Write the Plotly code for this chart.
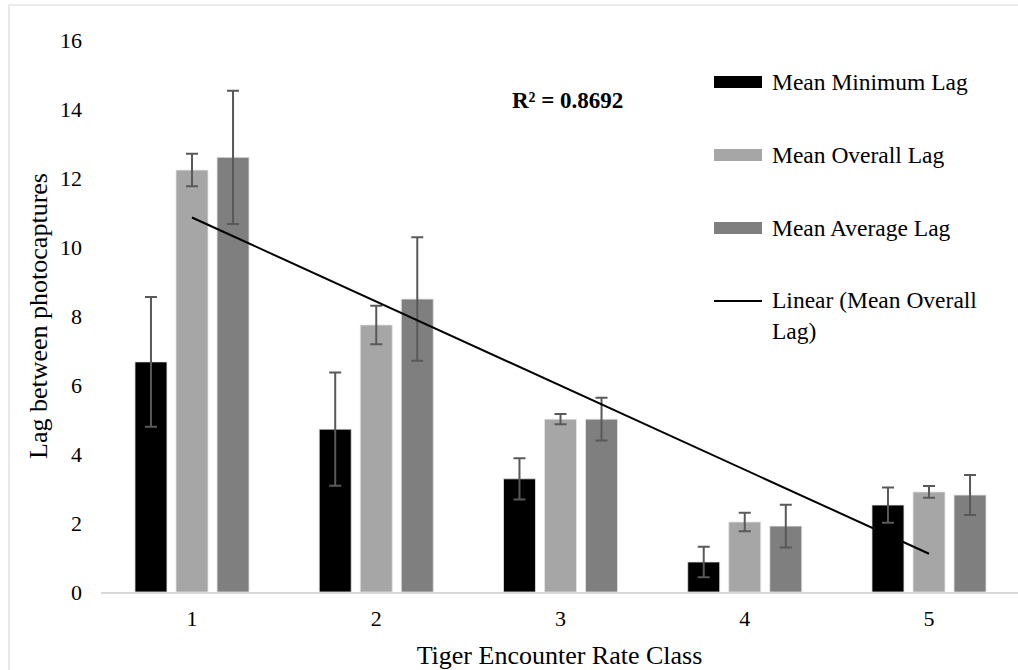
import numpy as np
import plotly.graph_objects as go

categories = ["1", "2", "3", "4", "5"]
x_num = [1, 2, 3, 4, 5]

min_lag = [6.67, 4.72, 3.28, 0.87, 2.52]
min_err = [1.88, 1.64, 0.60, 0.44, 0.51]
overall_lag = [12.23, 7.74, 5.01, 2.03, 2.90]
overall_err = [0.47, 0.56, 0.15, 0.27, 0.17]
average_lag = [12.60, 8.49, 5.01, 1.91, 2.81]
average_err = [1.93, 1.79, 0.62, 0.62, 0.58]

series_names = ["Mean Minimum Lag", "Mean Overall Lag", "Mean Average Lag"]
series_colors = ["#000000", "#a6a6a6", "#7f7f7f"]
trend_name = "Linear (Mean Overall<br>Lag)"
r2_label = "R² = 0.8692"

FONT = "Times New Roman, Liberation Serif, serif"
ERR_COLOR = "#595959"

fig = go.Figure()
for name, vals, errs, col in zip(series_names,
                                 [min_lag, overall_lag, average_lag],
                                 [min_err, overall_err, average_err],
                                 series_colors):
    fig.add_trace(go.Bar(
        x=x_num, y=vals, name=name,
        marker=dict(color=col, line=dict(color="#e6e6e6", width=0.8)),
        error_y=dict(type="data", array=errs, visible=True,
                     color=ERR_COLOR, thickness=2, width=6),
        showlegend=False,
    ))

# linear trendline fitted to Mean Overall Lag
slope, intercept = np.polyfit(x_num, overall_lag, 1)
trend_y = [slope * xv + intercept for xv in x_num]

fig.add_trace(go.Scatter(
    x=x_num, y=trend_y, mode="lines", name=trend_name,
    line=dict(color="#000000", width=2), showlegend=False,
))

# figure geometry helpers (paper coords)
L, R, T, B, W, H = 101, 0, 40, 78, 1018, 670
pw, ph = W - L - R, H - T - B
def px(xp):
    return (xp - L) / pw
def py(yp):
    return (H - B - yp) / ph

shapes = []
annotations = []

# outer chart frame
shapes.append(dict(type="rect", xref="paper", yref="paper",
                   x0=px(9), x1=px(1030), y0=py(700), y1=py(5),
                   line=dict(color="#d9d9d9", width=1.2), fillcolor="rgba(0,0,0,0)",
                   layer="below"))

# manual legend
LEG_SIZE = 23.5
legend_y = [82, 155, 228]
for name, col, yy in zip(series_names, series_colors, legend_y):
    shapes.append(dict(type="rect", xref="paper", yref="paper",
                       x0=px(714), x1=px(762), y0=py(yy + 6), y1=py(yy - 6),
                       line=dict(width=0), fillcolor=col))
    annotations.append(dict(xref="paper", yref="paper", x=px(770), y=py(yy),
                            xanchor="left", yanchor="middle", showarrow=False,
                            text=name, font=dict(family=FONT, size=LEG_SIZE, color="#000000")))
shapes.append(dict(type="line", xref="paper", yref="paper",
                   x0=px(714), x1=px(762), y0=py(301), y1=py(301),
                   line=dict(color="#000000", width=1.8)))
annotations.append(dict(xref="paper", yref="paper", x=px(770), y=py(285),
                        xanchor="left", yanchor="top", showarrow=False, align="left",
                        text=trend_name, font=dict(family=FONT, size=LEG_SIZE, color="#000000")))

annotations.append(dict(xref="paper", yref="paper", x=px(567), y=py(100),
                        xanchor="center", yanchor="middle", showarrow=False,
                        text="<b>%s</b>" % r2_label,
                        font=dict(family=FONT, size=23, color="#000000")))

fig.update_layout(
    width=W, height=H,
    margin=dict(l=L, r=R, t=T, b=B, pad=0),
    paper_bgcolor="white", plot_bgcolor="white",
    barmode="group", bargap=0.332, bargroupgap=0.22,
    font=dict(family=FONT, size=22, color="#000000"),
    shapes=shapes, annotations=annotations,
    showlegend=False,
)
unit = 184.25
x0 = 1 - 91 / unit
fig.update_xaxes(
    range=[x0, x0 + pw / unit], automargin=False,
    tickmode="array", tickvals=x_num, ticktext=categories,
    showgrid=False, zeroline=False, showline=True, linecolor="#d9d9d9", linewidth=1.5,
    ticks="", ticklabelstandoff=6,
    tickfont=dict(family=FONT, size=22, color="#000000"),
    title=dict(text="Tiger Encounter Rate Class", standoff=17,
               font=dict(family=FONT, size=26, color="#000000")),
)
fig.update_yaxes(
    range=[0, 16], automargin=False, tickmode="array", tickvals=list(range(0, 17, 2)),
    showgrid=False, zeroline=False, showline=False, ticks="", ticklabelstandoff=18,
    tickfont=dict(family=FONT, size=22, color="#000000"),
    title=dict(text="Lag between photocaptures", standoff=4,
               font=dict(family=FONT, size=26, color="#000000")),
)

fig.write_html(
    "out.html",
    config={"displayModeBar": False},
    post_script="document.body.style.margin='0';document.body.style.overflow='hidden';",
)
